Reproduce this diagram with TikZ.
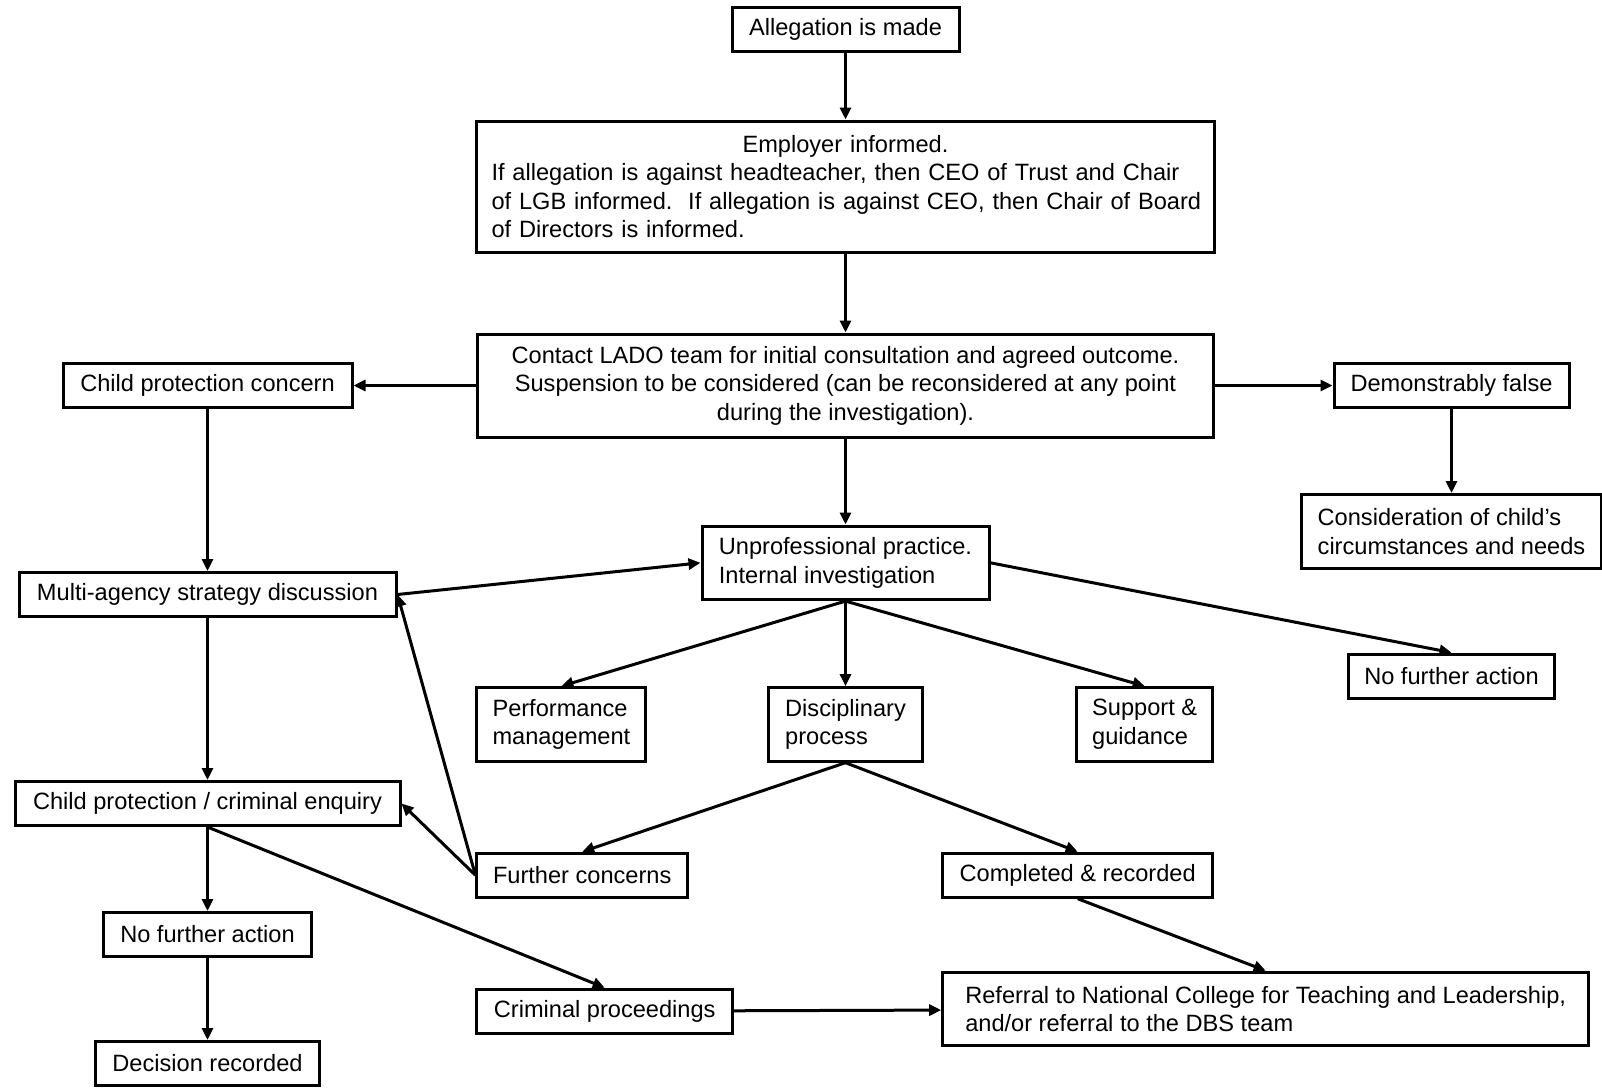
\documentclass[tikz,border=0pt]{standalone}
\usepackage{fontspec}
\setmainfont{Liberation Sans}
\usetikzlibrary{positioning,arrows.meta}

\begin{document}
\begin{tikzpicture}[
    box/.style={draw, line width=1.5pt, inner xsep=7.5pt, inner ysep=3pt, font=\fontsize{11.8}{14.3}\selectfont\frenchspacing},
    onebox/.style={box, minimum height=22pt},
    twobox/.style={box, align=left, minimum height=36.8pt},
    flow/.style={line width=1.5pt, -{Triangle[length=6pt,width=5.5pt]}},
  ]
  \useasboundingbox (0,0) rectangle (801pt,-544.5pt);

  %Nodes
  \node[onebox, minimum width=113.5pt]	(alleg) at (422.75pt,-14.5pt)	{Allegation is made};
  \node[box, align=left, text width=358pt, inner xsep=5.5pt, minimum height=65.5pt]	(informed) [below=33.5pt of alleg]
    {\makebox[\linewidth]{Employer informed.}\\
     \hspace*{2pt}If allegation is against headteacher, then CEO of Trust and Chair\\
     \hspace*{2pt}of LGB informed.\ \ If allegation is against CEO, then Chair of Board\\
     \hspace*{2pt}of Directors is informed.};
  \node[box, align=center, minimum width=368pt, minimum height=51.5pt]	(lado) [below=39.5pt of informed]
    {Contact LADO team for initial consultation and agreed outcome.\\
     Suspension to be considered (can be reconsidered at any point\\
     during the investigation).};
  \node[onebox, minimum width=144.5pt]	(cpc) [left=61.25pt of lado]	{Child protection concern};
  \node[onebox, minimum width=117.5pt]	(demfalse) [right=58.75pt of lado]	{Demonstrably false};
  \node[twobox, minimum width=149.8pt]	(needs) [below=42pt of demfalse]	{Consideration of child’s\\circumstances and needs};
  \node[twobox, minimum width=143.5pt]	(unprof) [below=43pt of lado]	{Unprofessional practice.\\Internal investigation};
  \node[onebox, minimum width=188.5pt]	(multi) [below=81pt of cpc]	{Multi-agency strategy discussion};
  \node[onebox, minimum width=103pt]	(nfaright) [below=41.5pt of needs]	{No further action};
  \node[twobox, minimum width=77pt]	(disc) [below=42.5pt of unprof]	{Disciplinary\\process};
  \node[twobox, minimum width=84.5pt]	(perf) [left=59.8pt of disc]	{Performance\\management};
  \node[twobox, minimum width=68pt]	(support) [right=75.6pt of disc]	{Support \&\\guidance};
  \node[onebox, minimum width=192.5pt]	(cpenq) [below=81pt of multi]	{Child protection / criminal enquiry};
  \node[onebox, minimum width=105.3pt]	(further) [below=44.5pt of perf.south west, anchor=north west]	{Further concerns};
  \node[onebox, minimum width=135pt]	(completed) [below=44.5pt of support.south east, anchor=north east]	{Completed \& recorded};
  \node[onebox, minimum width=103.8pt]	(nfaleft) [below=42pt of cpenq]	{No further action};
  \node[onebox, minimum width=112pt]	(decision) [below=41pt of nfaleft]	{Decision recorded};
  \node[onebox, minimum width=127.8pt]	(crimproc) [below=44.5pt of further.south west, anchor=north west]	{Criminal proceedings};
  \node[twobox, minimum width=323pt]	(referral) [below=36pt of completed.south west, anchor=north west]
    {Referral to National College for Teaching and Leadership,\\and/or referral to the DBS team};

  %Lines
  \draw[flow]	(alleg) -- (informed);
  \draw[flow]	(informed) -- (lado);
  \draw[flow]	(lado) -- (cpc);
  \draw[flow]	(lado) -- (demfalse);
  \draw[flow]	(lado) -- (unprof);
  \draw[flow]	(demfalse) -- (needs);
  \draw[flow]	(cpc) -- (multi);
  \draw[flow]	(multi.east) -- (unprof.west);
  \draw[flow]	(unprof.east) -- (nfaright.north);
  \draw[flow]	(unprof.south) -- (perf.north);
  \draw[flow]	(unprof.south) -- (disc.north);
  \draw[flow]	(unprof.south) -- (support.north);
  \draw[flow]	(multi) -- (cpenq);
  \draw[flow]	(disc.south) -- (further.north);
  \draw[flow]	(disc.south) -- (completed.north);
  \draw[flow]	(further.west) -- (multi.east);
  \draw[flow]	(further.west) -- (cpenq.east);
  \draw[flow]	(cpenq.south) -- (nfaleft.north);
  \draw[flow]	(cpenq.south) -- (crimproc.north);
  \draw[flow]	(nfaleft) -- (decision);
  \draw[flow]	(completed.south) -- (referral.north);
  \draw[flow]	(crimproc) -- (referral);

\end{tikzpicture}
\end{document}
